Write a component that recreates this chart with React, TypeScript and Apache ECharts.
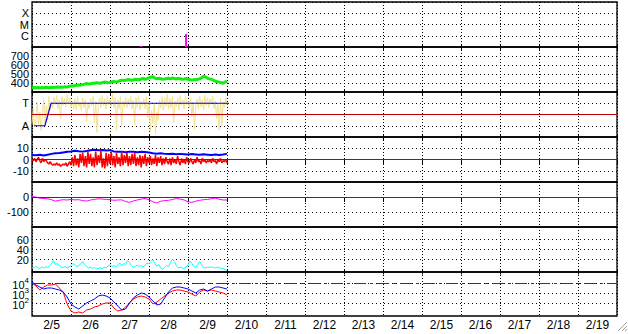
import React, { useEffect, useRef } from 'react';
import * as echarts from 'echarts';

// ---- Data (time in days since 2/5 00:00) ----
const dayLabels = ['2/5', '2/6', '2/7', '2/8', '2/9', '2/10', '2/11', '2/12', '2/13', '2/14', '2/15', '2/16', '2/17', '2/18', '2/19'];

// X-ray flare events: time (days) and log10 peak flux
const xrayFlareTimes = [2.8, 3.95];
const xrayFlarePeaks = [-6.9, -5.84];
const xrayClassLabels: Record<string, string> = { '-6': 'C', '-5': 'M', '-4': 'X' };

// Solar wind speed (km/s), step 0.05 day
const speedStep = 0.05;
const speedValues = [
  348, 351, 347, 349, 346, 350, 348, 352, 350, 348, 353, 350, 352, 355, 352, 356, 354, 358, 356, 362,
  368, 366, 372, 375, 378, 376, 382, 388, 394, 390, 392, 397, 398, 402, 400, 398, 404, 410, 408, 402,
  405, 412, 418, 412, 415, 425, 432, 428, 430, 438, 436, 430, 434, 442, 440, 436, 445, 450, 442, 448,
  458, 466, 470, 455, 446, 452, 448, 442, 445, 450, 452, 446, 455, 450, 445, 452, 448, 442, 444, 450,
  442, 436, 432, 438, 436, 442, 446, 458, 475, 468, 452, 446, 440, 432, 420, 415, 410, 404, 398, 410,
  420,
];

// IMF direction (A=1, T=3), step 1/30 day
const dirStep = 1 / 30;
const dirValues = [
  1.2, 2.5, 0.9, 1.4, 3.1, 1.0, 2.2, 0.6, 1.8, 3.4, 1.2, 2.8, 1.5, 3.6, 2.4, 3.2,
  2.6, 3.5, 2.9, 3.7, 2.5, 3.3, 1.6, 3.6, 2.8, 3.4, 2.7, 3.8, 2.9, 3.5, 2.6,
  3.2, 2.5, 3.4, 2.4, 3.6, 2.7, 3.1, 2.3, 3.5, 2.6, 3.3, 1.4, 3.0, 2.5, 3.4,
  2.8, 3.6, 1.2, 3.2, 0.4, 2.9, 3.5, 2.6, 3.7, 2.8, 3.4, 2.5, 3.6, 2.9, 3.3,
  2.7, 3.8, 2.6, 3.5, 0.6, 3.3, 2.5, 3.6, 1.0, 3.2, 2.7, 3.5, 2.6, 3.4, 2.8,
  3.6, 2.5, 3.3, 1.1, 3.5, 2.6, 3.7, 2.4, 3.2, 2.8, 3.4, 2.5, 3.6, 1.7, 3.1,
  0.5, 2.4, 1.2, 3.0, 0.3, 2.2, 1.5, 3.3, 2.6, 3.6, 2.4, 3.5, 2.7, 3.8, 2.5,
  3.4, 2.6, 3.6, 1.3, 3.2, 2.7, 3.5, 2.4, 3.7, 2.8, 3.3, 2.5, 3.6, 2.9, 3.2,
  2.6, 3.5, 1.8, 3.1, 0.7, 2.8, 3.4, 2.5, 3.6, 2.7, 3.3, 2.4, 3.7, 2.8, 3.5,
  2.6, 3.4, 2.9, 3.6, 2.5, 3.2, 1.6, 2.9, 0.6, 3.4, 1.0, 3.1, 2.6, 3.5, 2.8,
];
const sectorTimes = [0.05, 0.33, 0.49, 5.03];
const sectorValues = [1, 1, 3, 3];

// IMF Bt (nT), step 0.1 day
const btStep = 0.1;
const btValues = [
  4.0, 3.8, 4.2, 3.6, 4.3, 5.0, 5.6, 5.8, 6.3, 6.8, 7.2, 7.8, 7.3, 7.0, 7.5, 8.3, 8.6, 8.2, 8.5, 8.0,
  8.3, 7.2, 6.8, 7.0, 6.5, 7.0, 6.8, 6.5, 6.9, 6.6, 6.2, 5.5, 5.2, 5.6, 5.0, 4.8, 5.2, 4.6, 5.0, 4.7,
  4.4, 4.8, 4.5, 4.2, 4.6, 4.3, 4.0, 4.4, 4.1, 4.5, 5.0,
];

// IMF Bz (nT), step 1/30 day
const bzStep = 1 / 30;
const bzValues = [
  0, -1, 1, -2, 0, 2, -1, -3, 1, -2, 0, -1, -3, -4, -2, -4,
  -5, -4, -5, -3, -5, -4, -6, -5, -4, -5, -3, -6, -4, -2, -5,
  2, -6, 4, -5, 1, -7, 5, -3, 6, -6, 3, -7, 7, -4, 5,
  -6, 2, -7, 7, -5, 4, -3, 8, -7, 1, -8, 6, -6, 5, -4,
  7, -5, 3, -7, 6, -4, 2, -6, 7, -5, 4, -3, 6, -6, 3,
  -5, 5, -4, 6, -6, 2, -5, 4, -7, 3, -4, 5, -6, 2, -3,
  3, -5, 1, -4, 4, -6, 2, -3, 3, -5, 1, -4, 2, -2, -4,
  1, -5, 2, -3, 0, -4, 3, -2, -5, 1, -3, 0, -4, 2, -2,
  -3, 1, -2, -4, 0, -3, 2, -2, -1, -4, 1, -2, 0, -3, -1,
  -2, 0, -3, 1, -2, -1, -4, 0, -2, 1, -3, -1, -2, 0, -3,
];

// Dst (nT), step 0.1 day
const dstStep = 0.1;
const dstValues = [
  3, 0, -8, -10, -12, -18, -28, -22, -18, -20, -16, -19, -18, -24, -27, -20, -16, -12, -14, -16,
  -18, -22, -20, -19, -30, -36, -26, -20, -14, -10, -18, -32, -40, -28, -24, -22, -17, -10, -14, -20,
  -32, -36, -28, -22, -18, -16, -12, -7, -15, -20, -20,
];

// Solar wind density, step 0.05 day
const densityStep = 0.05;
const densityValues = [
  5, 3, 6, 4, 2, 5, 3, 6, 4, 7, 12, 18, 10, 12, 8, 5, 4, 6, 3, 5,
  8, 12, 9, 6, 8, 11, 16, 10, 6, 3, 5, 2, 4, 1, 2, 3, 1, 5, 3, 7,
  10, 6, 8, 5, 9, 13, 8, 12, 10, 18, 14, 8, 4, 6, 9, 6, 8, 5, 9, 13,
  11, 16, 20, 12, 7, 10, 3, 1, 4, 8, 6, 14, 21, 16, 8, 3, 5, 3, 2, 5,
  9, 17, 12, 6, 4, 10, 16, 9, 4, 3, 5, 4, 5, 4, 3, 5, 4, 2, 3, 0,
  -2,
];
const densityTicks = [20, 40, 60];

// Electron flux, log10, step 0.1 day
const electronStep = 0.1;
const electronRed = [
  4.0, 3.7, 3.3, 3.6, 3.8, 3.8, 3.9, 3.5, 3.1, 1.9, 1.2, 1.0, 1.1, 1.0, 1.3, 1.4, 1.6, 1.7, 1.9, 2.0,
  2.0, 1.5, 1.2, 1.3, 1.6, 2.0, 2.4, 2.6, 2.7, 2.6, 2.4, 1.9, 2.1, 2.4, 2.7, 3.0, 3.2, 3.3, 3.3, 3.2,
  3.1, 2.9, 2.7, 3.1, 3.3, 3.2, 3.3, 3.2, 3.1, 3.0, 2.8,
];
const electronBlue = [
  4.1, 3.8, 3.6, 3.4, 3.5, 3.5, 3.4, 3.3, 3.1, 2.6, 1.9, 1.6, 1.4, 1.7, 2.0, 2.2, 2.4, 2.7, 2.8, 2.7,
  2.5, 2.1, 1.7, 1.3, 1.4, 2.0, 2.5, 2.8, 3.0, 2.9, 2.6, 2.2, 1.8, 1.9, 2.5, 3.1, 3.5, 3.6, 3.6, 3.5,
  3.4, 3.2, 3.0, 3.3, 3.4, 3.2, 3.4, 3.6, 3.6, 3.5, 3.4,
];
const electronTicks = [2, 3, 4];

const FONT = '"Liberation Sans", Arial, sans-serif';
const RED_REF = '#c00000';

function pairs(step: number, values: number[]) {
  return values.map((v, i) => [i * step, v]);
}

const tops = [2, 47, 92, 137, 182, 227, 272];
const heights = [45, 45, 45, 45, 45, 45, 44];

function buildOption(): any {
  const grid = tops.map((top, i) => ({
    left: 32,
    width: 585,
    top,
    height: heights[i],
    show: true,
    borderColor: '#000',
    borderWidth: 1.3,
    backgroundColor: 'transparent',
  }));

  const xAxis: any[] = tops.map((_, i) => ({
    type: 'value',
    gridIndex: i,
    min: 0,
    max: 15,
    interval: 1,
    position: 'bottom',
    offset: -2,
    axisLine: { show: false },
    axisTick: { show: i < 6, length: 5, lineStyle: { color: '#000', width: 1 } },
    axisLabel: { show: false },
    splitLine: { show: true, lineStyle: { color: '#000', type: [1, 2], width: 1 } },
  }));
  xAxis.push({
    type: 'category',
    gridIndex: 6,
    data: dayLabels,
    position: 'bottom',
    boundaryGap: true,
    axisLine: { show: false },
    axisTick: { show: false },
    splitLine: { show: false },
    axisLabel: { interval: 0, fontSize: 12, color: '#000', margin: 3, fontFamily: FONT },
  });

  const ySplit = { show: true, lineStyle: { color: '#000', type: [1, 3], width: 1 } };
  const yBase = (i: number) => ({
    type: 'value',
    gridIndex: i,
    axisLine: { show: false },
    axisTick: { show: false },
    splitLine: ySplit,
  });
  const lab = (formatter: any, extra: any = {}) => ({
    color: '#000',
    fontSize: 10,
    lineHeight: 9,
    margin: 3,
    fontFamily: FONT,
    formatter,
    ...extra,
  });

  const yAxis: any[] = [
    {
      ...yBase(0), min: -7, max: -3, interval: 1,
      axisLabel: lab((v: number) => xrayClassLabels[String(v)] || '', { fontSize: 11 }),
    },
    {
      ...yBase(1), min: 300, max: 800, interval: 100,
      axisLabel: lab((v: number) => (v >= 400 && v <= 700 ? String(v) : ''), { fontSize: 11 }),
    },
    {
      ...yBase(2), min: 0, max: 4, interval: 1,
      axisLabel: lab((v: number) => (v === 3 ? 'T' : v === 1 ? 'A' : ''), { fontSize: 11 }),
    },
    {
      ...yBase(3), min: -20, max: 20, interval: 10,
      axisLabel: lab((v: number) => (Math.abs(v) <= 10 ? String(v) : ''), { fontSize: 11 }),
    },
    {
      ...yBase(4), min: -200, max: 100, interval: 100,
      axisLabel: lab((v: number) => (v === 0 || v === -100 ? String(v) : ''), { fontSize: 11 }),
    },
    {
      ...yBase(5), min: -5, max: 85,
      axisTick: { show: false, customValues: densityTicks },
      axisLabel: lab((v: number) => (densityTicks.includes(v) ? String(v) : ''), {
        fontSize: 11,
        customValues: [-5, ...densityTicks, 85],
      }),
    },
    {
      ...yBase(6), min: 0.7, max: 5.1,
      axisTick: { show: false, customValues: electronTicks },
      axisLabel: lab((v: number) => (electronTicks.includes(v) ? `{b|10}{s|${v}}` : ''), {
        customValues: [0.7, ...electronTicks, 5.1],
        lineHeight: 14,
        rich: {
          b: { fontSize: 11, color: '#000', fontFamily: FONT, lineHeight: 14, verticalAlign: 'bottom' },
          s: { fontSize: 8, color: '#000', fontFamily: FONT, lineHeight: 8, verticalAlign: 'top' },
        },
      }),
    },
  ];

  const refLine = (value: number, type: any = 'solid') => ({
    silent: true,
    symbol: 'none',
    label: { show: false },
    lineStyle: { color: RED_REF, width: 1, type },
    data: [{ yAxis: value }],
  });

  const line = (name: string, idx: number, data: any[], color: string, width: number, extra: any = {}) => ({
    name,
    type: 'line',
    xAxisIndex: idx,
    yAxisIndex: idx,
    data,
    symbol: 'none',
    silent: true,
    lineStyle: { color, width },
    z: 3,
    ...extra,
  });

  const series: any[] = [];
  xrayFlareTimes.forEach((t, k) => {
    series.push(line('xray' + k, 0, [[t, -7], [t, xrayFlarePeaks[k]]], '#ff00ff', 2));
  });
  series.push(line('speed', 1, pairs(speedStep, speedValues), '#11ee11', 3));
  series.push(line('direction', 2, pairs(dirStep, dirValues), '#f5e391', 1, { markLine: refLine(2) }));
  series.push(line('sector', 2, sectorTimes.map((t, i) => [t, sectorValues[i]]), '#0000ff', 1.2));
  series.push(line('bt', 3, pairs(btStep, btValues), '#0000ff', 2, { markLine: refLine(0) }));
  series.push(line('bz', 3, pairs(bzStep, bzValues), '#ff0000', 1.5));
  series.push(line('dst', 4, pairs(dstStep, dstValues), '#ff00ff', 1, { markLine: refLine(0) }));
  series.push(line('density', 5, pairs(densityStep, densityValues), '#00ffff', 1));
  series.push(line('eRed', 6, pairs(electronStep, electronRed), '#ff0000', 1, { markLine: refLine(4, [12, 4, 3, 4]) }));
  series.push(line('eBlue', 6, pairs(electronStep, electronBlue), '#0000ff', 1));

  const graphic = [
    { type: 'line', shape: { x1: 627, y1: 322, x2: 618, y2: 331 }, style: { stroke: '#a0a0a0', lineWidth: 1 } },
    { type: 'line', shape: { x1: 627, y1: 326, x2: 622, y2: 331 }, style: { stroke: '#a0a0a0', lineWidth: 1 } },
    { type: 'line', shape: { x1: 627, y1: 329, x2: 625, y2: 331 }, style: { stroke: '#a0a0a0', lineWidth: 1 } },
  ];

  return {
    animation: false,
    backgroundColor: '#fff',
    textStyle: { fontFamily: FONT },
    grid,
    xAxis,
    yAxis,
    series,
    graphic,
  };
}

export default function App() {
  const ref = useRef<HTMLDivElement>(null);
  useEffect(() => {
    if (!ref.current) return;
    const chart = echarts.init(ref.current, undefined, { renderer: 'svg' });
    chart.setOption(buildOption());
    return () => chart.dispose();
  }, []);
  return (
    <div
      ref={ref}
      style={{ position: 'fixed', left: 0, top: 0, width: 628, height: 334, background: '#fff' }}
    />
  );
}
